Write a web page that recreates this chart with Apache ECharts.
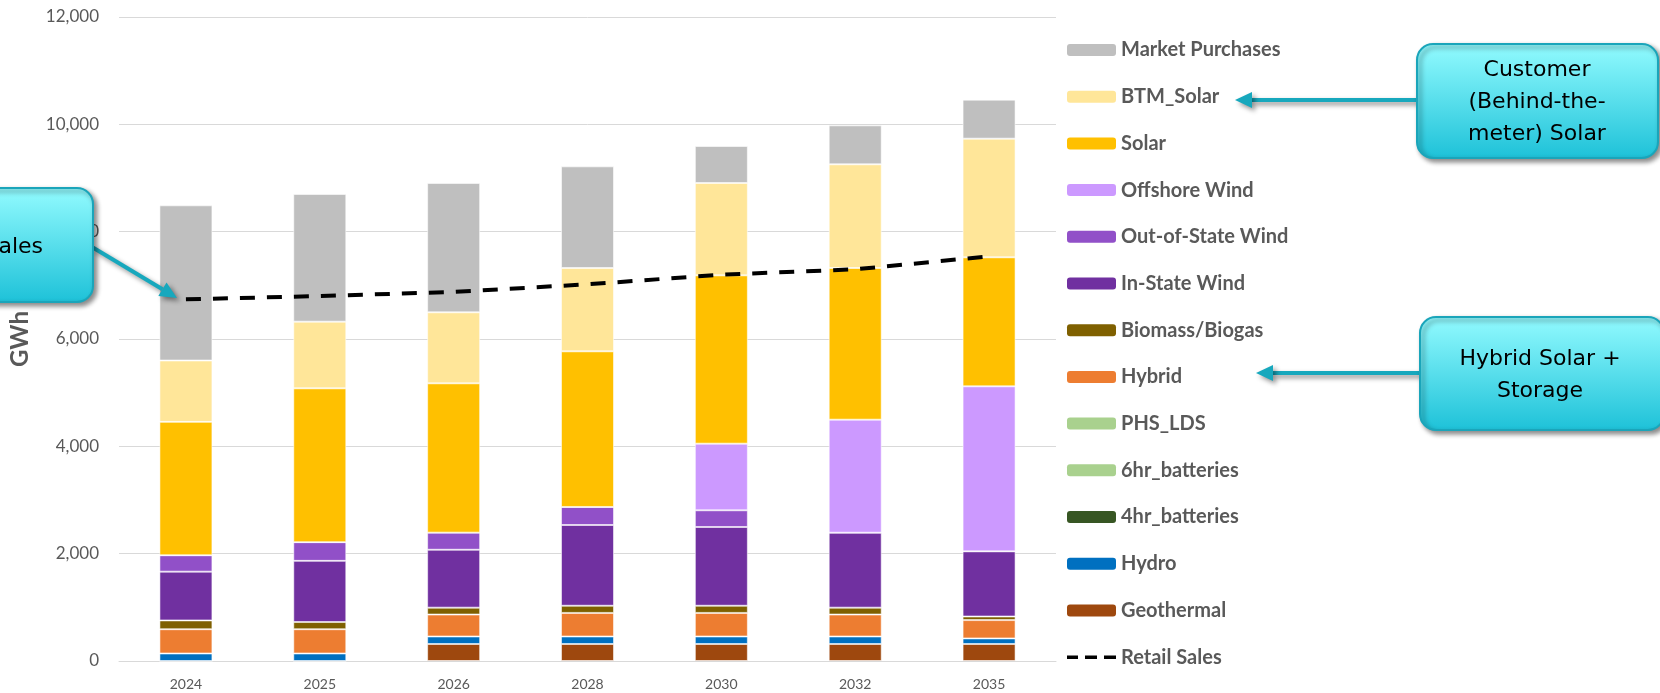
<!DOCTYPE html>
<html>
<head>
<meta charset="utf-8">
<script src="https://cdn.jsdelivr.net/npm/echarts@6/dist/echarts.min.js"></script>
<style>
html,body{margin:0;padding:0;background:#fff;}
#chart{width:1660px;height:693px;}
</style>
</head>
<body>
<div id="chart"></div>
<script>
// ---- data ----
var categories = ['2024','2025','2026','2028','2030','2032','2035'];
var geothermal = [0, 0, 317, 317, 317, 317, 317];
var hydro      = [140, 140, 140, 140, 140, 140, 104];
var bat4hr     = [0, 0, 0, 0, 0, 0, 0];
var bat6hr     = [0, 0, 0, 0, 0, 0, 0];
var phsLds     = [0, 0, 0, 0, 0, 0, 0];
var hybrid     = [452, 452, 409, 439, 439, 409, 341];
var biomass    = [164, 134, 128, 134, 134, 128, 67];
var inState    = [909, 1140, 1079, 1504, 1467, 1397, 1214];
var outState   = [305, 348, 319, 336, 311, 0, 0];
var offshore   = [0, 0, 0, 0, 1242, 2106, 3075];
var solar      = [2486, 2867, 2782, 2900, 3136, 2826, 2404];
var btmSolar   = [1143, 1242, 1323, 1553, 1721, 1932, 2211];
var market     = [2892, 2379, 2410, 1894, 689, 726, 727];
var retail     = [6739, 6801, 6876, 7019, 7199, 7298, 7540];
var yTicks     = [0, 2000, 4000, 6000, 8000, 10000, 12000];

// ---- series definitions (bottom to top) ----
var stackDefs = [
  ['Geothermal', geothermal, '#9E480E'],
  ['Hydro', hydro, '#0070C0'],
  ['4hr_batteries', bat4hr, '#375623'],
  ['6hr_batteries', bat6hr, '#A9D18E'],
  ['PHS_LDS', phsLds, '#A9D18E'],
  ['Hybrid', hybrid, '#ED7D31'],
  ['Biomass/Biogas', biomass, '#7F6000'],
  ['In-State Wind', inState, '#7030A0'],
  ['Out-of-State Wind', outState, '#9150C8'],
  ['Offshore Wind', offshore, '#CC99FF'],
  ['Solar', solar, '#FFC000'],
  ['BTM_Solar', btmSolar, '#FFE699'],
  ['Market Purchases', market, '#BFBFBF']
];

var series = stackDefs.map(function(d){
  return {
    name: d[0], type: 'bar', stack: 'gen', data: d[1], barWidth: 53,
    itemStyle: {color: d[2], borderColor: 'rgba(255,255,255,0.55)', borderWidth: 1},
    emphasis: {disabled: true}
  };
});
series.push({
  name: 'Retail Sales', type: 'line', data: retail, symbol: 'none', z: 10,
  lineStyle: {color: '#000', width: 4, type: [15, 12]},
  itemStyle: {color: '#000'}
});

var legendOrder = stackDefs.map(function(d){return {name: d[0]};}).reverse();
legendOrder.push({
  name: 'Retail Sales',
  icon: 'path://M0,0L0.01,0M0,12L0.01,12M0,4.5h11v3.5h-11zM18,4.5h12v3.5h-12zM37,4.5h12v3.5h-12z',
  itemStyle: {color: '#000', borderWidth: 0}
});

var teal = '#17A8BD';
var shadow = {shadowBlur: 5, shadowColor: 'rgba(0,0,0,0.45)', shadowOffsetX: 3, shadowOffsetY: 3};
function box(x, y, w, h){
  return {type:'rect', z:100, shape:{x:x, y:y, width:w, height:h, r:16},
    style: Object.assign({
      fill: {type:'linear', x:0, y:0, x2:0, y2:1, colorStops:[{offset:0,color:'#93FBFF'},{offset:1,color:'#1DC1D8'}]},
      stroke: '#1AA5BA', lineWidth: 2}, shadow)};
}
function label(x, y, t, al){
  al = al || 'center';
  return {type:'text', z:101, x:x, y:y,
    style:{text:t, fill:'#000', font:'22px "DejaVu Sans"', fontSize:22, fontFamily:'DejaVu Sans',
      align:al, verticalAlign:'middle', textAlign:al, textVerticalAlign:'middle', lineHeight:32}};
}
function arrow(x1, y1, tx, ty){
  var dx = tx - x1, dy = ty - y1, L = Math.sqrt(dx*dx+dy*dy);
  var ux = dx/L, uy = dy/L, hl = 17, hw = 8;
  var bx = tx - ux*hl, by = ty - uy*hl;
  return [
    {type:'line', z:99, shape:{x1:x1, y1:y1, x2:bx, y2:by},
      style: Object.assign({stroke: teal, lineWidth: 4}, shadow)},
    {type:'polygon', z:99, shape:{points:[[tx,ty],[bx - uy*hw, by + ux*hw],[bx + uy*hw, by - ux*hw]]},
      style: Object.assign({fill: teal}, shadow)}
  ];
}

var graphics = [];
graphics = graphics.concat(arrow(1417, 100, 1235, 100));
graphics.push(box(1417, 44, 241, 114));
graphics.push(label(1537, 102, 'Customer\n(Behind-the-\nmeter) Solar'));
graphics = graphics.concat(arrow(1420, 373, 1256, 373));
graphics.push(box(1420, 317, 244, 113));
graphics.push(label(1540, 375, 'Hybrid Solar +\nStorage'));
graphics = graphics.concat(arrow(92, 247, 177, 298));
graphics.push(box(-148, 188, 241, 114));
graphics.push(label(43, 247, 'Retail Sales', 'right'));

var chart = echarts.init(document.getElementById('chart'));
chart.setOption({
  animation: false,
  backgroundColor: '#fff',
  grid: {left: 117, right: 604, top: 17, bottom: 32},
  legend: {
    orient: 'vertical', left: 1067, top: 40, padding: 0,
    data: legendOrder, itemWidth: 49, itemHeight: 12, itemGap: 26.7,
    selectedMode: false,
    itemStyle: {borderWidth: 0},
    textStyle: {fontFamily: 'Lato', fontWeight: 'bold', fontSize: 20, color: '#595959', lineHeight: 20}
  },
  xAxis: {
    type: 'category', data: categories,
    axisLine: {show: true, lineStyle: {color: '#D9D9D9', width: 1}},
    axisTick: {show: false},
    axisLabel: {fontFamily: 'Lato', fontSize: 14, color: '#595959', margin: 16}
  },
  yAxis: {
    type: 'value', min: yTicks[0], max: yTicks[yTicks.length-1], interval: yTicks[1]-yTicks[0],
    name: 'GWh', nameLocation: 'middle', nameRotate: 90, nameGap: 87,
    nameTextStyle: {fontFamily: 'Lato', fontWeight: 'bold', fontSize: 24, color: '#595959'},
    axisLine: {show: false}, axisTick: {show: false},
    splitLine: {lineStyle: {color: '#D9D9D9', width: 1}},
    axisLabel: {fontFamily: 'Lato', fontSize: 17, color: '#595959', margin: 20,
      formatter: function(v){ return v.toLocaleString('en-US'); }}
  },
  series: series,
  graphic: graphics
});
</script>
</body>
</html>
